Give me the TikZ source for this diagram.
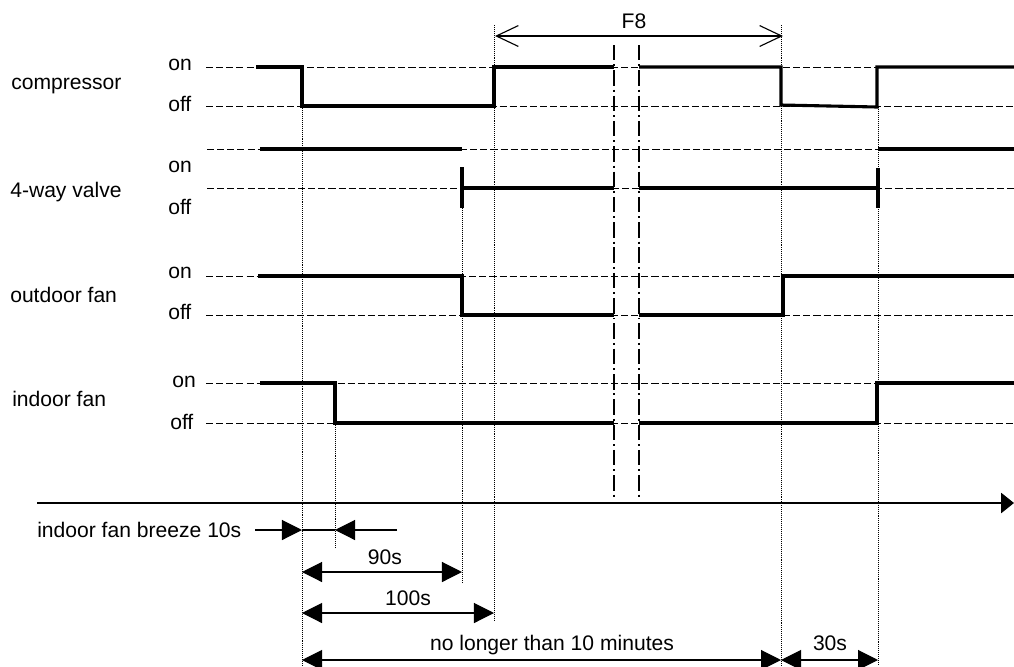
\documentclass[tikz,border=0pt]{standalone}
\usepackage{fontspec}
\setmainfont{Liberation Sans}
\usetikzlibrary{arrows.meta}
\begin{document}
\begin{tikzpicture}[x=0.025cm,y=-0.025cm,
  font=\fontsize{15}{18}\selectfont,
  lvl/.style={line width=0.7pt,dash pattern=on 5pt off 2.2pt},
  sig/.style={line width=2.2pt},
  guide/.style={line width=0.45pt,dash pattern=on 0.7pt off 0.7pt},
  brk/.style={line width=1.3pt,dash pattern=on 11pt off 2.8pt on 1.4pt off 2.8pt},
  dim/.style={line width=0.8pt},
  >={Triangle[length=0.5cm,width=0.5cm]},
  lbl/.style={inner sep=0pt,anchor=west}]
\useasboundingbox (0,0) rectangle (1014,666);
\node[lbl] (compr) at (11,86) {compressor};
\node[lbl] (valve) at (10,192) {4-way valve};
\node[lbl] (outfan) at (10,295) {outdoor fan};
\node[lbl] (infan) at (12,399) {indoor fan};
\node[lbl] (compron) at (168,65) {on};
\node[lbl] (comproff) at (168,104) {off};
\node[lbl] (valveon) at (168,167) {on};
\node[lbl] (valveoff) at (168,207) {off};
\node[lbl] (outfanon) at (168,273) {on};
\node[lbl] (outfanoff) at (168,312) {off};
\node[lbl] (infanon) at (172,382) {on};
\node[lbl] (infanoff) at (170,422) {off};
\draw[lvl] (206,67) -- (1014,67);
\draw[lvl] (206,106) -- (1014,106);
\draw[lvl] (207,149) -- (1014,149);
\draw[lvl] (207,188) -- (1014,188);
\draw[lvl] (206,276) -- (1014,276);
\draw[lvl] (206,315) -- (1014,315);
\draw[lvl] (206,383) -- (1014,383);
\draw[lvl] (206,423) -- (1014,423);
\draw[guide] (302,106) -- (302,666);
\draw[guide] (335,423) -- (335,548);
\draw[guide] (462,208) -- (462,583);
\draw[guide] (494,25) -- (494,620);
\draw[guide] (781,25) -- (781,666);
\draw[guide] (878,107) -- (878,666);
\draw[brk] (614,45) -- (614,500);
\draw[brk] (639,45) -- (639,500);
\draw[sig] (256,67) -- (302,67) -- (302,106) -- (494,106) -- (494,67) -- (614,67);
\draw[sig] (639,67) -- (781,67) -- (781,105) -- (877,107) -- (877,67) -- (1014,67);
\draw[sig] (260,149) -- (462,149);
\draw[sig] (462,167) -- (462,208);
\draw[sig] (462,188) -- (614,188);
\draw[sig] (639,188) -- (878,188);
\draw[sig] (878,168) -- (878,208);
\draw[sig] (878,149) -- (1014,149);
\draw[sig] (258,276) -- (462,276) -- (462,315) -- (614,315);
\draw[sig] (639,315) -- (783,315) -- (783,276) -- (1014,276);
\draw[sig] (260,383) -- (335,383) -- (335,423) -- (614,423);
\draw[sig] (639,423) -- (877,423) -- (877,383) -- (1014,383);
\coordinate (f0) at (495,36);
\coordinate (f1) at (783,36);
\node (f8) at (634,21) {F8};
\draw[dim,{Straight Barb[length=0.55cm,width=0.52cm]}-{Straight Barb[length=0.55cm,width=0.52cm]}] (f0) -- (f1);
\coordinate (t0) at (37,503);
\coordinate (t1) at (1014,503);
\draw[line width=1.4pt,-{Triangle[length=0.32cm,width=0.5cm]}] (t0) -- (t1);
\node[lbl] (breeze) at (37,530) {indoor fan breeze 10s};
\coordinate (b0) at (255,530);
\coordinate (b1) at (302,530);
\coordinate (b2) at (335,530);
\coordinate (b3) at (397,530);
\draw[dim,->] (b0) -- (b1);
\draw[dim] (b1) -- (b2);
\draw[dim,->] (b3) -- (b2);
\coordinate (n0) at (302,572);
\coordinate (n1) at (462,572);
\draw[dim,<->] (n0) -- (n1);
\node (ninety) at (385,557) {90s};
\coordinate (h0) at (302,613);
\coordinate (h1) at (494,613);
\draw[dim,<->] (h0) -- (h1);
\node (hundred) at (408,598) {100s};
\coordinate (m0) at (302,660);
\coordinate (m1) at (781,660);
\coordinate (m2) at (878,660);
\draw[dim,<->] (m0) -- (m1);
\draw[dim,<->] (m1) -- (m2);
\node (tenmin) at (552,645) {no longer than 10 minutes};
\node (thirty) at (830,643) {30s};
\end{tikzpicture}
\end{document}
